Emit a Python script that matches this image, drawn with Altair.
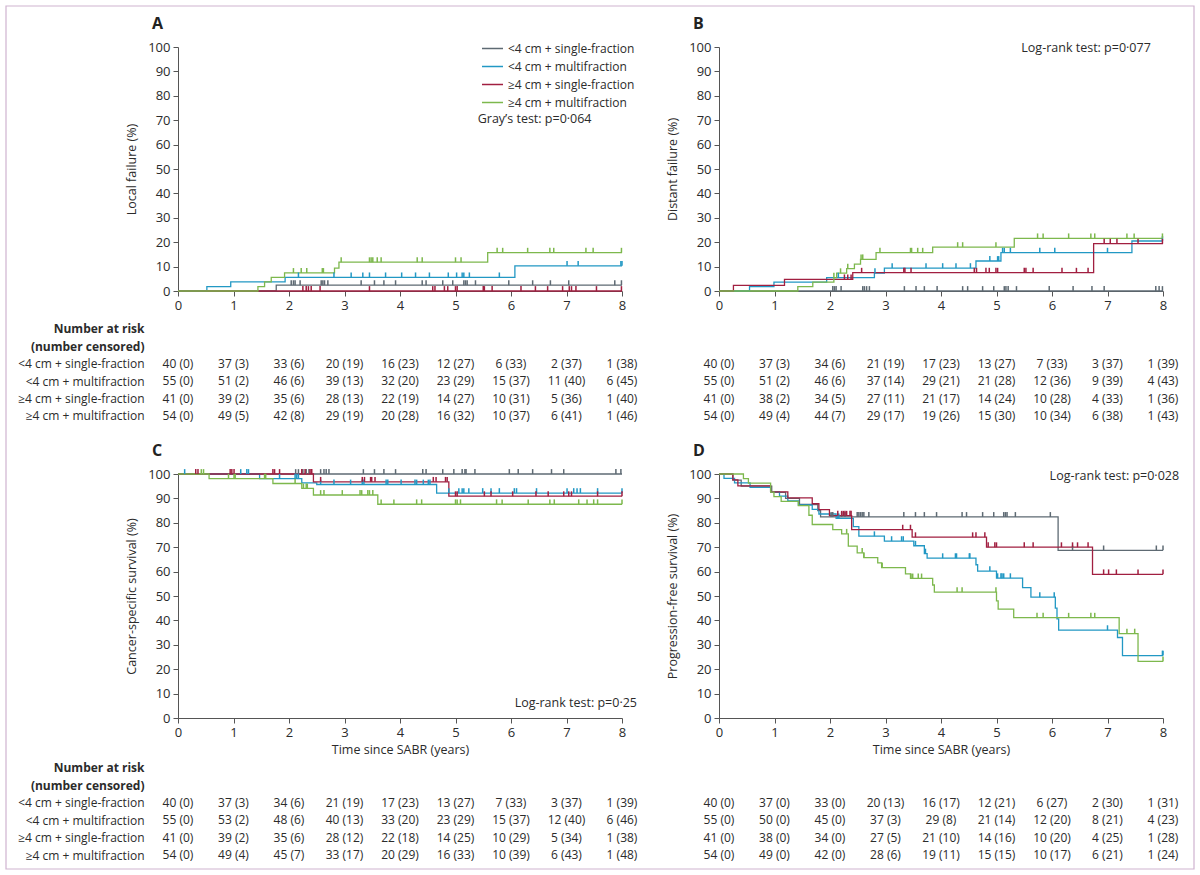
import json
import altair as alt
import pandas as pd

# ---------------------------------------------------------------- data
GROUPS = ["<4 cm + single-fraction", "<4 cm + multifraction",
          "≥4 cm + single-fraction", "≥4 cm + multifraction"]
KEYS = ["lsf", "lmf", "gsf", "gmf"]
COLORS = ["#5e6a73", "#2298c4", "#a11f40", "#7db84d"]
TIME_TICKS = [0, 1, 2, 3, 4, 5, 6, 7, 8]
PCT_TICKS = [0, 10, 20, 30, 40, 50, 60, 70, 80, 90, 100]

# Panel A: local failure (%) -- step times / values after each step
A_START = 0
A_STEP_T = {"lsf": [1.77], "lmf": [0.52, 0.95, 1.93, 6.07], "gsf": [],
            "gmf": [1.44, 1.56, 1.68, 1.92, 2.82, 2.90, 5.58]}
A_STEP_V = {"lsf": [2.4], "lmf": [1.8, 3.7, 5.6, 10.3], "gsf": [],
            "gmf": [1.8, 3.7, 5.6, 7.4, 9.4, 11.8, 15.7]}
A_CENS = {
    "lsf": [2.04, 2.08, 2.11, 2.20, 2.58, 2.61, 2.64, 2.70, 3.30, 3.54, 3.71, 3.92, 4.40, 4.47,
            4.77, 4.95, 5.15, 5.18, 5.21, 5.36, 5.96, 6.39, 6.71, 7.04, 7.87, 7.99],
    "lmf": [2.17, 2.81, 3.12, 3.33, 3.45, 3.74, 4.03, 4.28, 4.53, 4.87, 5.02, 5.12, 5.15,
            5.25, 5.79, 7.01, 7.21, 7.98, 8.0],
    "gsf": [2.25, 2.31, 2.35, 2.40, 2.56, 3.45, 4.59, 4.63, 4.80, 4.86, 5.00, 5.03, 5.50,
            5.52, 5.66, 6.18, 6.44, 6.66, 6.93, 7.05, 7.09, 7.17, 7.54, 7.99],
    "gmf": [2.08, 2.22, 2.32, 2.60, 2.62, 2.94, 3.45, 3.48, 3.51, 3.59, 3.66, 4.31, 4.40,
            5.00, 5.10, 5.75, 5.85, 6.30, 6.70, 6.77, 7.35, 7.48, 7.99],
}

# Panel B: distant failure (%)
B_START = 0
B_STEP_T = {"lsf": [], "lmf": [0.55, 0.99, 1.94, 2.80, 2.98, 4.63, 5.08, 7.44],
            "gsf": [0.26, 1.18, 2.41, 6.75],
            "gmf": [1.42, 1.69, 2.07, 2.12, 2.30, 2.44, 2.55, 2.83, 3.85, 5.32]}
B_STEP_V = {"lsf": [], "lmf": [1.8, 3.6, 5.5, 7.3, 9.4, 12.3, 15.7, 20.5],
            "gsf": [2.3, 4.8, 7.5, 19.4],
            "gmf": [1.8, 3.6, 5.5, 7.3, 9.2, 11.0, 13.0, 15.7, 18.0, 21.6]}
B_CENS = {
    "lsf": [2.05, 2.08, 2.11, 2.20, 2.59, 2.62, 2.66, 2.71, 3.34, 3.55, 3.70, 3.93, 4.39,
            4.48, 4.75, 4.95, 5.14, 5.17, 5.21, 5.36, 5.95, 6.38, 6.72, 6.94, 7.87, 7.93, 7.99],
    "lmf": [2.15, 2.81, 3.12, 3.73, 4.03, 4.27, 4.53, 4.88, 5.02, 5.04, 5.11, 5.14, 5.25,
            5.78, 6.05, 7.00, 7.99],
    "gsf": [2.26, 2.32, 2.38, 2.57, 3.33, 3.35, 3.46, 4.60, 4.64, 4.81, 4.87, 4.99, 5.02,
            5.50, 5.53, 5.66, 6.18, 6.44, 6.65, 6.94, 7.05, 7.17, 7.55, 7.99],
    "gmf": [2.07, 2.19, 2.32, 2.56, 2.59, 2.90, 3.45, 3.47, 3.58, 3.67, 4.30, 4.39, 4.99,
            5.74, 5.84, 6.30, 6.70, 6.77, 7.35, 7.48, 7.99],
}

# Panel C: cancer-specific survival (%)
C_START = 100
C_STEP_T = {"lsf": [], "lmf": [1.47, 2.23, 2.50, 4.66], "gsf": [2.44, 4.88],
            "gmf": [0.56, 1.71, 2.23, 2.44, 3.60]}
C_STEP_V = {"lsf": [], "lmf": [98.1, 96.4, 95.7, 92.2], "gsf": [96.8, 90.9],
            "gmf": [98.1, 96.1, 94.1, 91.4, 87.6]}
C_CENS = {
    "lsf": [2.12, 2.17, 2.25, 2.31, 2.36, 2.57, 2.63, 2.67, 2.72, 3.34, 3.54, 3.71, 3.92,
            4.41, 4.47, 4.77, 4.97, 5.12, 5.17, 5.19, 5.35, 5.97, 6.13, 6.39, 6.73, 6.95,
            7.89, 7.98],
    "lmf": [0.12, 1.13, 1.24, 1.27, 1.83, 2.11, 2.14, 2.17, 2.57, 2.81, 3.11, 3.32, 3.35,
            3.75, 3.78, 4.02, 4.27, 4.30, 4.42, 4.51, 4.54, 4.88, 5.06, 5.12, 5.15, 5.24,
            5.49, 5.64, 5.79, 6.06, 6.10, 6.46, 7.01, 7.13, 7.19, 7.25, 7.56, 8.0],
    "gsf": [0.32, 0.36, 0.94, 0.97, 1.01, 1.71, 1.74, 1.83, 2.23, 2.29, 2.38, 2.41, 2.57,
            3.32, 3.36, 3.47, 3.49, 3.55, 4.60, 4.65, 4.82, 4.85, 5.00, 5.03, 5.52, 5.64,
            6.03, 6.45, 6.67, 6.95, 7.04, 7.09, 7.56, 8.0],
    "gmf": [0.42, 0.46, 0.91, 1.01, 1.03, 1.56, 1.58, 2.11, 2.26, 2.31, 2.33, 2.57, 2.63,
            2.96, 3.28, 3.31, 3.42, 3.45, 3.51, 3.66, 3.89, 4.30, 4.39, 5.00, 5.03, 5.09,
            5.74, 5.84, 6.31, 6.70, 6.78, 7.22, 7.37, 7.49, 7.56, 8.0],
}

# Panel D: progression-free survival (%)
D_START = 100
D_STEP_T = {
    "lsf": [0.25, 0.40, 0.95, 1.20, 1.45, 1.78, 1.83, 6.11],
    "lmf": [0.09, 0.28, 0.56, 0.93, 1.09, 1.24, 1.43, 1.68, 1.80, 2.11, 2.42, 2.52, 2.98,
            3.51, 3.70, 3.75, 4.63, 4.66, 5.00, 5.47, 5.62, 6.06, 6.09, 6.12, 7.18, 7.27],
    "gsf": [0.25, 0.34, 0.93, 1.24, 1.68, 1.80, 1.99, 2.39, 3.48, 4.82, 6.73],
    "gmf": [0.44, 0.53, 0.93, 0.99, 1.12, 1.43, 1.62, 1.68, 2.05, 2.21, 2.33, 2.49, 2.61,
            2.86, 2.93, 3.36, 3.45, 3.85, 3.88, 5.00, 5.03, 5.31, 7.21, 7.55],
}
D_STEP_V = {
    "lsf": [97.5, 95.0, 92.5, 90.0, 87.5, 85.0, 82.4, 68.7],
    "lmf": [98.2, 96.4, 94.5, 92.7, 90.9, 89.0, 87.3, 85.5, 83.6, 81.8, 78.4, 74.5, 72.5,
            70.6, 67.4, 65.5, 62.8, 60.2, 57.3, 53.4, 49.5, 45.0, 40.6, 36.0, 33.0, 25.6],
    "gsf": [97.6, 95.1, 92.7, 90.2, 87.8, 85.4, 82.9, 77.2, 74.1, 70.0, 58.9],
    "gmf": [98.1, 96.3, 92.6, 90.7, 88.8, 87.0, 83.1, 79.3, 77.2, 75.5, 70.4, 67.7, 65.7,
            63.6, 61.6, 59.1, 57.2, 54.5, 51.6, 48.0, 44.6, 41.1, 34.6, 23.2],
}
D_CENS = {
    "lsf": [2.02, 2.05, 2.21, 2.27, 2.49, 2.52, 2.55, 2.58, 2.61, 2.70, 3.33, 3.54, 3.70,
            3.92, 4.38, 4.46, 4.75, 4.95, 5.13, 5.16, 5.19, 5.34, 5.97, 6.37, 6.93, 7.88, 8.0],
    "lmf": [2.14, 2.16, 2.80, 3.11, 3.29, 3.32, 3.54, 3.72, 4.03, 4.26, 4.28, 4.51, 4.52,
            4.88, 5.02, 5.08, 5.10, 5.13, 5.25, 5.78, 6.04, 7.00, 7.99, 8.0],
    "gsf": [2.14, 2.21, 2.24, 2.27, 2.30, 2.36, 2.38, 3.31, 3.45, 3.54, 4.57, 4.63, 4.79,
            4.85, 4.97, 5.00, 5.50, 5.66, 6.17, 6.37, 6.46, 6.65, 6.93, 7.02, 7.16, 7.55, 8.0],
    "gmf": [2.30, 2.58, 2.61, 2.94, 3.46, 3.49, 3.59, 3.65, 4.29, 4.38, 4.99, 5.73, 5.84,
            6.30, 6.70, 6.77, 7.35, 7.49, 8.0],
}

# Number at risk (number censored)
A_RISK = [
    ["40 (0)", "37 (3)", "33 (6)", "20 (19)", "16 (23)", "12 (27)", "6 (33)", "2 (37)", "1 (38)"],
    ["55 (0)", "51 (2)", "46 (6)", "39 (13)", "32 (20)", "23 (29)", "15 (37)", "11 (40)", "6 (45)"],
    ["41 (0)", "39 (2)", "35 (6)", "28 (13)", "22 (19)", "14 (27)", "10 (31)", "5 (36)", "1 (40)"],
    ["54 (0)", "49 (5)", "42 (8)", "29 (19)", "20 (28)", "16 (32)", "10 (37)", "6 (41)", "1 (46)"],
]
B_RISK = [
    ["40 (0)", "37 (3)", "34 (6)", "21 (19)", "17 (23)", "13 (27)", "7 (33)", "3 (37)", "1 (39)"],
    ["55 (0)", "51 (2)", "46 (6)", "37 (14)", "29 (21)", "21 (28)", "12 (36)", "9 (39)", "4 (43)"],
    ["41 (0)", "38 (2)", "34 (5)", "27 (11)", "21 (17)", "14 (24)", "10 (28)", "4 (33)", "1 (36)"],
    ["54 (0)", "49 (4)", "44 (7)", "29 (17)", "19 (26)", "15 (30)", "10 (34)", "6 (38)", "1 (43)"],
]
C_RISK = [
    ["40 (0)", "37 (3)", "34 (6)", "21 (19)", "17 (23)", "13 (27)", "7 (33)", "3 (37)", "1 (39)"],
    ["55 (0)", "53 (2)", "48 (6)", "40 (13)", "33 (20)", "23 (29)", "15 (37)", "12 (40)", "6 (46)"],
    ["41 (0)", "39 (2)", "35 (6)", "28 (12)", "22 (18)", "14 (25)", "10 (29)", "5 (34)", "1 (38)"],
    ["54 (0)", "49 (4)", "45 (7)", "33 (17)", "20 (29)", "16 (33)", "10 (39)", "6 (43)", "1 (48)"],
]
D_RISK = [
    ["40 (0)", "37 (0)", "33 (0)", "20 (13)", "16 (17)", "12 (21)", "6 (27)", "2 (30)", "1 (31)"],
    ["55 (0)", "50 (0)", "45 (0)", "37 (3)", "29 (8)", "21 (14)", "12 (20)", "8 (21)", "4 (23)"],
    ["41 (0)", "38 (0)", "34 (0)", "27 (5)", "21 (10)", "14 (16)", "10 (20)", "4 (25)", "1 (28)"],
    ["54 (0)", "49 (0)", "42 (0)", "28 (6)", "19 (11)", "15 (15)", "10 (17)", "6 (21)", "1 (24)"],
]
TABLE_HEADER = ["Number at risk", "(number censored)"]

# annotations: (time, value, text, align)
A_NOTE = [(5.40, 70.6, "Gray’s test: p=0·064", "left")]
B_NOTE = [(7.78, 99.7, "Log-rank test: p=0·077", "right")]
C_NOTE = [(8.27, 6.1, "Log-rank test: p=0·25", "right")]
D_NOTE = [(8.29, 99.2, "Log-rank test: p=0·028", "right")]

# ---------------------------------------------------------------- styling
FONT = "Open Sans"
TXT = "#2b2b2b"
AX = "#555555"
PW, PH = 444, 244
TICK_UP = 2.0

LEGEND = alt.Legend(orient="none", legendX=303, legendY=-10, title=None,
                    symbolType="stroke", symbolSize=441, symbolStrokeWidth=1.5,
                    labelFontSize=12, labelColor=TXT, rowPadding=-3.2,
                    labelOffset=4, padding=0, labelFont=FONT)
COLOR = alt.Color("group:N", scale=alt.Scale(domain=GROUPS, range=COLORS), legend=LEGEND)


def step_df(start, ts, vs):
    rows = []
    for k, g in zip(KEYS, GROUPS):
        rows.append((g, 0.0, start))
        for t, v in zip(ts[k], vs[k]):
            rows.append((g, t, v))
        rows.append((g, 8.0, vs[k][-1] if vs[k] else start))
    return pd.DataFrame(rows, columns=["group", "t", "v"])


def value_at(start, ts, vs, k, t):
    val = start
    for tt, vv in zip(ts[k], vs[k]):
        if tt <= t:
            val = vv
    return val


def cens_df(start, ts, vs, cens):
    rows = []
    for k, g in zip(KEYS, GROUPS):
        for t in cens[k]:
            v = value_at(start, ts, vs, k, t)
            rows.append((g, t, v, v + TICK_UP))
    return pd.DataFrame(rows, columns=["group", "t", "v", "v2"])


def plot_panel(letter, ytitle, xtitle, start, ts, vs, cens, notes):
    xax = alt.Axis(values=TIME_TICKS, format="d", title=xtitle if xtitle else None,
                   labelFlush=False, labelOverlap=False, tickCount=9,
                   grid=False, tickSize=5, labelPadding=3, titlePadding=4,
                   labelFontSize=13, titleFontSize=12.5, titleFontWeight="normal",
                   domainColor=AX, tickColor=AX, labelColor=TXT, titleColor=TXT)
    yax = alt.Axis(values=PCT_TICKS, format="d", title=ytitle, grid=False, tickSize=5,
                   labelPadding=3, labelOverlap=False, tickCount=11,
                   titlePadding=9, labelFontSize=13, titleFontSize=12.5,
                   titleFontWeight="normal", domainColor=AX, tickColor=AX,
                   labelColor=TXT, titleColor=TXT)
    X = alt.X("t:Q", scale=alt.Scale(domain=[0, 8], nice=False, zero=False), axis=xax)
    Y = alt.Y("v:Q", scale=alt.Scale(domain=[0, 100], nice=False), axis=yax)
    lines = alt.Chart(step_df(start, ts, vs)).mark_line(
        interpolate="step-after", strokeWidth=1.3).encode(x=X, y=Y, color=COLOR)
    ticks = alt.Chart(cens_df(start, ts, vs, cens)).mark_rule(strokeWidth=1.5).encode(
        x=X, y=Y, y2="v2:Q", color=COLOR)
    layers = [lines, ticks]
    for (t, v, s, al) in notes:
        nd = pd.DataFrame({"t": [t], "v": [v], "label": [s]})
        layers.append(alt.Chart(nd).mark_text(align=al, baseline="middle", fontSize=12.5,
                                              color=TXT, font=FONT)
                      .encode(x=X, y=Y, text="label:N"))
    return alt.layer(*layers).properties(
        width=PW, height=PH,
        title=alt.TitleParams(letter, anchor="start", frame="group", dx=-26, offset=9,
                              fontSize=16, fontWeight="bold", color="#222222", font=FONT))


def table_panel(risk, labels, H, d0, d1, frame=False):
    rows = []
    for i, r in enumerate(risk):
        for j, s in enumerate(r):
            rows.append((TIME_TICKS[j], i + 2, s))
    df = pd.DataFrame(rows, columns=["t", "r", "label"])
    if labels:
        names = TABLE_HEADER + GROUPS
        yax = alt.Axis(values=[0, 1, 2, 3, 4, 5], labelExpr=json.dumps(names) + "[datum.value]",
                       domain=False, ticks=False, tickSize=0, labelPadding=34, title=None,
                       grid=False, labelFontSize=12, labelColor=TXT, labelFont=FONT,
                       labelOverlap=False,
                       labelFontWeight={"condition": {"test": "datum.value < 2", "value": "bold"},
                                        "value": "normal"})
    else:
        yax = None
    txt = alt.Chart(df).mark_text(fontSize=12, color=TXT, font=FONT, baseline="middle").encode(
        x=alt.X("t:Q", scale=alt.Scale(domain=[0, 8], nice=False, zero=False), axis=None),
        y=alt.Y("r:Q", scale=alt.Scale(domain=[d0, d1], reverse=True, nice=False, zero=False),
                axis=yax),
        text="label:N",
    )
    layers = [txt]
    if frame:
        # thin decorative frame around the whole figure (panel-A table is the anchor)
        fd = pd.DataFrame({"f": [0]})
        layers.append(alt.Chart(fd).mark_rect(filled=False, stroke="#cfb3d0", strokeWidth=1.2)
                      .encode(x=alt.value(-172), x2=alt.value(1016),
                              y=alt.value(-305), y2=alt.value(558)))
    return alt.layer(*layers).properties(width=PW, height=H)


A = plot_panel("A", "Local failure (%)", None, A_START, A_STEP_T, A_STEP_V, A_CENS, A_NOTE)
B = plot_panel("B", "Distant failure (%)", None, B_START, B_STEP_T, B_STEP_V, B_CENS, B_NOTE)
C = plot_panel("C", "Cancer-specific survival (%)", "Time since SABR (years)",
               C_START, C_STEP_T, C_STEP_V, C_CENS, C_NOTE)
D = plot_panel("D", "Progression-free survival (%)", "Time since SABR (years)",
               D_START, D_STEP_T, D_STEP_V, D_CENS, D_NOTE)

TA = table_panel(A_RISK, True, 143, -1.034, 7.184, frame=True)
TB = table_panel(B_RISK, False, 143, -1.034, 7.184)
TC = table_panel(C_RISK, True, 125, -1.714, 5.429)
TD = table_panel(D_RISK, False, 125, -1.714, 5.429)

chart = alt.concat(A, B, TA, TB, C, D, TC, TD, columns=2,
                   spacing={"row": 20, "column": 97}, bounds="flush", align="each"
                   ).properties(padding=5, background="white"
                   ).configure(font=FONT).configure_view(stroke=None)

chart.save("out.html", embed_options={"renderer": "svg", "actions": False})
